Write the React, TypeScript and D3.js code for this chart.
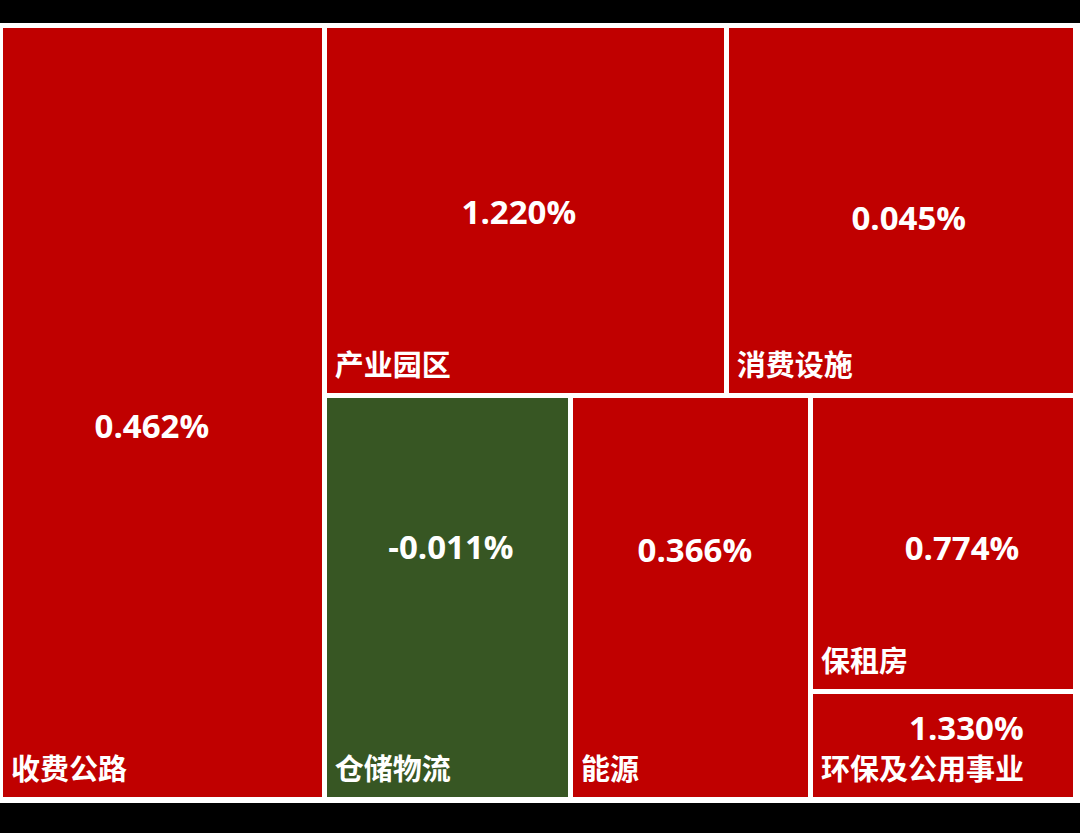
import React from "react";
import * as d3 from "d3";

// sectors, treemap weight (area), and daily change in %
const categories = ["收费公路", "产业园区", "消费设施", "仓储物流", "能源", "保租房", "环保及公用事业"];
const weights = [24.85, 14.74, 12.81, 9.86, 9.62, 7.79, 2.83];
const changes = [0.462, 1.22, 0.045, -0.011, 0.366, 0.774, 1.33];

// where the value label sits inside each cell (fraction of width / height)
const labelPos: [number, number][] = [
  [0.467, 0.518],
  [0.484, 0.505],
  [0.523, 0.52],
  [0.515, 0.375],
  [0.519, 0.381],
  [0.573, 0.517],
  [0.59, 0.333],
];

const W = 1080;
const H = 833;
const UP = "#c00000";
const DOWN = "#375623";

interface Node {
  i?: number;
  value?: number;
  children?: Node[];
}

const leaf = (i: number): Node => ({ i, value: weights[i] });

// nesting follows the original layout: column | (top row / bottom row)
const tree: Node = {
  children: [
    leaf(0),
    {
      children: [
        { children: [leaf(1), leaf(2)] },
        { children: [leaf(3), leaf(4), { children: [leaf(5), leaf(6)] }] },
      ],
    },
  ],
};

const App: React.FC = () => {
  const x0 = 3, y0 = 28, w = 1070, h = 769;

  const root = d3.hierarchy<Node>(tree).sum(d => d.value ?? 0);
  d3.treemap<Node>()
    .tile(d3.treemapSliceDice)
    .size([w, h])
    .paddingInner(5)(root);

  const leaves = root.leaves() as d3.HierarchyRectangularNode<Node>[];
  const vSize = 33;
  const cSize = 29;

  return (
    <>
      <style>{`body{margin:0;background:#000}`}</style>
      <svg width={W} height={H} style={{ display: "block" }}>
        <rect width={W} height={H} fill="#000" />
        <rect x={0} y={23} width={W} height={780} fill="#fff" />
        <g transform={`translate(${x0},${y0})`}>
          {leaves.map(d => {
            const i = d.data.i!;
            const cw = d.x1 - d.x0;
            const ch = d.y1 - d.y0;
            const [fx, fy] = labelPos[i];
            return (
              <g key={categories[i]} transform={`translate(${d.x0},${d.y0})`}>
                <rect width={cw} height={ch} fill={changes[i] < 0 ? DOWN : UP} shapeRendering="crispEdges" />
                <text
                  x={cw * fx}
                  y={ch * fy + vSize * 0.357}
                  textAnchor="middle"
                  fill="#fff"
                  fontFamily="'Open Sans', 'Noto Sans', sans-serif"
                  fontWeight="bold"
                  fontSize={vSize}
                >
                  {changes[i].toFixed(3)}%
                </text>
                <text
                  x={8}
                  y={ch - 17}
                  fill="#fff"
                  fontFamily="'Noto Sans CJK SC', sans-serif"
                  fontWeight="bold"
                  fontSize={cSize}
                >
                  {categories[i]}
                </text>
              </g>
            );
          })}
        </g>
      </svg>
    </>
  );
};

export default App;
